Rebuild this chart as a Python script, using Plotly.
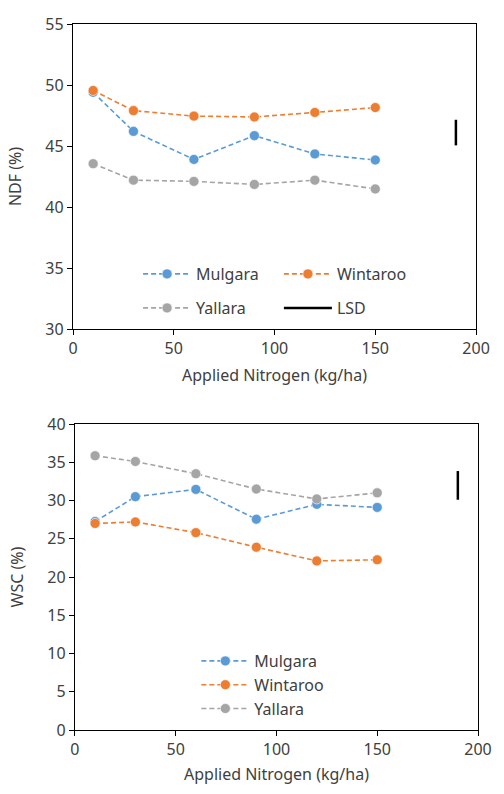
import plotly.graph_objects as go

nitrogen = [10, 30, 60, 90, 120, 150]

ndf_mulgara = [49.4, 46.2, 43.9, 45.85, 44.35, 43.85]
ndf_wintaroo = [49.55, 47.9, 47.45, 47.38, 47.75, 48.15]
ndf_yallara = [43.55, 42.2, 42.1, 41.85, 42.2, 41.48]
ndf_lsd_x = [190, 190]
ndf_lsd_y = [45.05, 47.15]

wsc_mulgara = [27.25, 30.5, 31.45, 27.55, 29.5, 29.1]
wsc_wintaroo = [27.0, 27.2, 25.8, 23.9, 22.1, 22.25]
wsc_yallara = [35.85, 35.1, 33.5, 31.5, 30.2, 31.0]
wsc_lsd_x = [190, 190]
wsc_lsd_y = [30.1, 33.85]

colors = {"Mulgara": "#5B9BD5", "Wintaroo": "#ED7D31", "Yallara": "#A5A5A5"}
FONT = "Noto Sans"
TXT = "#404040"

fig = go.Figure()

def series(name, x, y, xa, ya, legend):
    fig.add_trace(go.Scatter(
        x=x, y=y, name=name, mode="lines+markers",
        line=dict(color=colors[name], width=1.6, dash="5px,3px"),
        marker=dict(color=colors[name], size=10, line=dict(color="rgba(255,255,255,0.6)", width=1)),
        xaxis=xa, yaxis=ya, legend=legend))

series("Mulgara", nitrogen, ndf_mulgara, "x", "y", "legend")
series("Wintaroo", nitrogen, ndf_wintaroo, "x", "y", "legend2")
series("Yallara", nitrogen, ndf_yallara, "x", "y", "legend3")
fig.add_trace(go.Scatter(x=ndf_lsd_x, y=ndf_lsd_y, name="LSD", mode="lines",
                         line=dict(color="black", width=2.5), xaxis="x", yaxis="y", legend="legend4"))

series("Mulgara", nitrogen, wsc_mulgara, "x2", "y2", "legend5")
series("Wintaroo", nitrogen, wsc_wintaroo, "x2", "y2", "legend5")
series("Yallara", nitrogen, wsc_yallara, "x2", "y2", "legend5")
fig.add_trace(go.Scatter(x=wsc_lsd_x, y=wsc_lsd_y, name="LSD", mode="lines", showlegend=False,
                         line=dict(color="black", width=2.5), xaxis="x2", yaxis="y2"))

W, H = 504, 794
L, R, T, B = 73, 14, 24, 64
pw = W - L - R
ph = H - T - B

axcommon = dict(showgrid=False, zeroline=False, showline=True, linecolor="black", linewidth=1.3,
                mirror=True, ticks="outside", ticklen=5, tickcolor="black",
                tickfont=dict(family=FONT, size=16, color=TXT))

fig.update_layout(
    width=W, height=H, margin=dict(l=L, r=R, t=T, b=B),
    paper_bgcolor="white", plot_bgcolor="white",
    font=dict(family=FONT, size=16, color=TXT),
    xaxis=dict(axcommon, domain=[0, 415 / pw], range=[0, 200], dtick=50, anchor="y",
               title=dict(text="Applied Nitrogen (kg/ha)", font=dict(family=FONT, size=16, color=TXT), standoff=11)),
    yaxis=dict(axcommon, domain=[1 - 305 / ph, 1], range=[30, 55], dtick=5, anchor="x",
               title=dict(text="NDF (%)", font=dict(family=FONT, size=16, color=TXT), standoff=19)),
    xaxis2=dict(axcommon, domain=[2 / pw, 1], range=[0, 200], dtick=50, anchor="y2",
                title=dict(text="Applied Nitrogen (kg/ha)", font=dict(family=FONT, size=16, color=TXT), standoff=9)),
    yaxis2=dict(axcommon, domain=[0, 306 / ph], range=[0, 40], dtick=5, anchor="x2",
                title=dict(text="WSC (%)", font=dict(family=FONT, size=16, color=TXT), standoff=19)),
)

def px_to_paper(xp, yp):
    return (xp - L) / pw, 1 - (yp - T) / ph

leg = dict(font=dict(family=FONT, size=16, color=TXT), bgcolor="rgba(0,0,0,0)", itemwidth=48,
           xanchor="left", yanchor="middle")
for name, xp, yp in [("legend", 140, 274), ("legend2", 285, 274), ("legend3", 140, 308), ("legend4", 285, 308)]:
    x, y = px_to_paper(xp, yp)
    fig.update_layout({name: dict(leg, x=x, y=y)})
x5, y5 = px_to_paper(200, 685)
fig.update_layout(legend5=dict(leg, x=x5, y=y5, tracegroupgap=0))

fig.write_html("out.html", config={"displayModeBar": False},
               post_script="document.body.style.margin='0';document.body.style.overflow='hidden';")
